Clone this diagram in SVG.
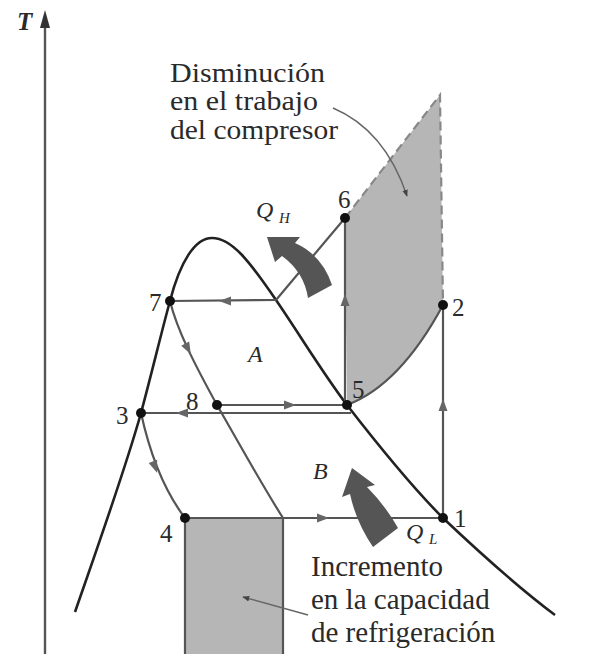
<svg xmlns="http://www.w3.org/2000/svg" width="606" height="654" viewBox="0 0 606 654">
<style>
.t{font-family:"Liberation Serif","Times New Roman",serif;fill:#2a2a2a}
.lbl{font-size:28px}
.lbl2{font-size:29px}
.num{font-size:25px}
.it{font-style:italic;font-size:24px}
.sub{font-style:italic;font-size:15px}
.dome{fill:none;stroke:#222;stroke-width:2.6}
.cyc{fill:none;stroke:#555;stroke-width:2.2}
.dash{fill:none;stroke:#888;stroke-width:2.2;stroke-dasharray:9 5}
.lead{fill:none;stroke:#666;stroke-width:1.4}
.shade{fill:#b6b6b6}
.dot{fill:#111}
.ah{fill:#666}
.big{fill:#555}
</style>
<defs>
<marker id="tip" viewBox="0 0 10 10" refX="9" refY="5" markerWidth="7" markerHeight="7" orient="auto" markerUnits="userSpaceOnUse">
<path d="M0,1 L10,5 L0,9 Z" fill="#444"/>
</marker>
<path id="arr" d="M6,0 L-6,-4.5 L-6,4.5 Z"/>
</defs>
<rect width="606" height="654" fill="#fff"/>
<g id="areas">
<path class="shade" d="M345,218 L440,95 L443,305 Q400,385 347,405 Z"/>
<rect class="shade" x="185" y="518" width="98" height="136"/>
</g>
<g id="axis">
<line x1="45" y1="24" x2="45" y2="654" stroke="#555" stroke-width="2.4"/>
<path d="M45,10 L40,28 L50,28 Z" fill="#333"/>
<text class="t" x="17" y="30" font-size="25" font-style="italic" font-weight="bold">T</text>
</g>
<g id="connectors">
<path class="dome" d="M75,612 C100,540 125,470 141,413 C152,372 162,330 170,301 C180,262 195,238 212,238 C232,238 250,262 276,300 C300,335 322,372 347,405 C378,445 410,485 443,518 C480,553 515,585 555,615"/>
<path class="cyc" d="M276,300 L170,301"/>
<path class="cyc" d="M276,300 L345,218"/>
<path class="cyc" d="M345,405 L345,218"/>
<path class="cyc" d="M170,301 C177,330 195,365 217,405 C240,445 262,485 283,518"/>
<path class="cyc" d="M217,405 L347,405"/>
<path class="cyc" d="M351,413 L141,413"/>
<path class="cyc" d="M141,413 C148,445 160,485 185,518"/>
<path class="cyc" d="M185,518 L443,518"/>
<path class="cyc" d="M443,518 L443,305"/>
<path class="cyc" d="M347,405 Q400,385 443,305"/>
<path class="cyc" d="M185,518 L185,654 M283,518 L283,654"/>
<path class="dash" d="M345,218 L440,95 L443,305"/>
<use href="#arr" class="ah" transform="translate(225,301) rotate(180)"/>
<use href="#arr" class="ah" transform="translate(345,300) rotate(-90)"/>
<use href="#arr" class="ah" transform="translate(188,349) rotate(62)"/>
<use href="#arr" class="ah" transform="translate(290,405)"/>
<use href="#arr" class="ah" transform="translate(182,413) rotate(180)"/>
<use href="#arr" class="ah" transform="translate(155,467) rotate(70)"/>
<use href="#arr" class="ah" transform="translate(323,518)"/>
<use href="#arr" class="ah" transform="translate(443,405) rotate(-90)"/>
<path class="lead" d="M333,108 Q385,130 407,196" marker-end="url(#tip)"/>
<path class="lead" d="M308,615 L243,597" marker-end="url(#tip)"/>
</g>
<g id="heat">
<path class="big" d="M308,298 Q304,272 282,256 L275,262 L267,237 L300,237 L295,243 Q322,255 332,285 Z"/>
<path class="big" d="M373,547 Q356,522 350,494 L342,497 L352,468 L375,485 L367,487 Q385,505 398,528 Z"/>
<text class="t it" x="256" y="218">Q</text>
<text class="t sub" x="279" y="223">H</text>
<text class="t it" x="406" y="540">Q</text>
<text class="t sub" x="429" y="544" font-size="14">L</text>
<text class="t it" x="248" y="362">A</text>
<text class="t it" x="313" y="479">B</text>
</g>
<g id="p1"><circle class="dot" cx="443" cy="518" r="5"/><text class="t num" x="454" y="527">1</text></g>
<g id="p2"><circle class="dot" cx="443" cy="305" r="5"/><text class="t num" x="452" y="316">2</text></g>
<g id="p3"><circle class="dot" cx="141" cy="413" r="5"/><text class="t num" x="116" y="424">3</text></g>
<g id="p4"><circle class="dot" cx="185" cy="518" r="5"/><text class="t num" x="160" y="542">4</text></g>
<g id="p5"><circle class="dot" cx="347" cy="405" r="5"/><text class="t num" x="352" y="398">5</text></g>
<g id="p6"><circle class="dot" cx="345" cy="218" r="5"/><text class="t num" x="338" y="208">6</text></g>
<g id="p7"><circle class="dot" cx="170" cy="301" r="5"/><text class="t num" x="149" y="311">7</text></g>
<g id="p8"><circle class="dot" cx="217" cy="405" r="5"/><text class="t num" x="186" y="410">8</text></g>
<g id="note-top">
<text class="t lbl" x="170" y="82" textLength="155" lengthAdjust="spacingAndGlyphs">Disminución</text>
<text class="t lbl" x="170" y="110" textLength="148" lengthAdjust="spacingAndGlyphs">en el trabajo</text>
<text class="t lbl" x="170" y="139" textLength="168" lengthAdjust="spacingAndGlyphs">del compresor</text>
</g>
<g id="note-bottom">
<text class="t lbl2" x="311" y="576">Incremento</text>
<text class="t lbl2" x="311" y="609">en la capacidad</text>
<text class="t lbl2" x="311" y="642">de refrigeración</text>
</g>
</svg>
